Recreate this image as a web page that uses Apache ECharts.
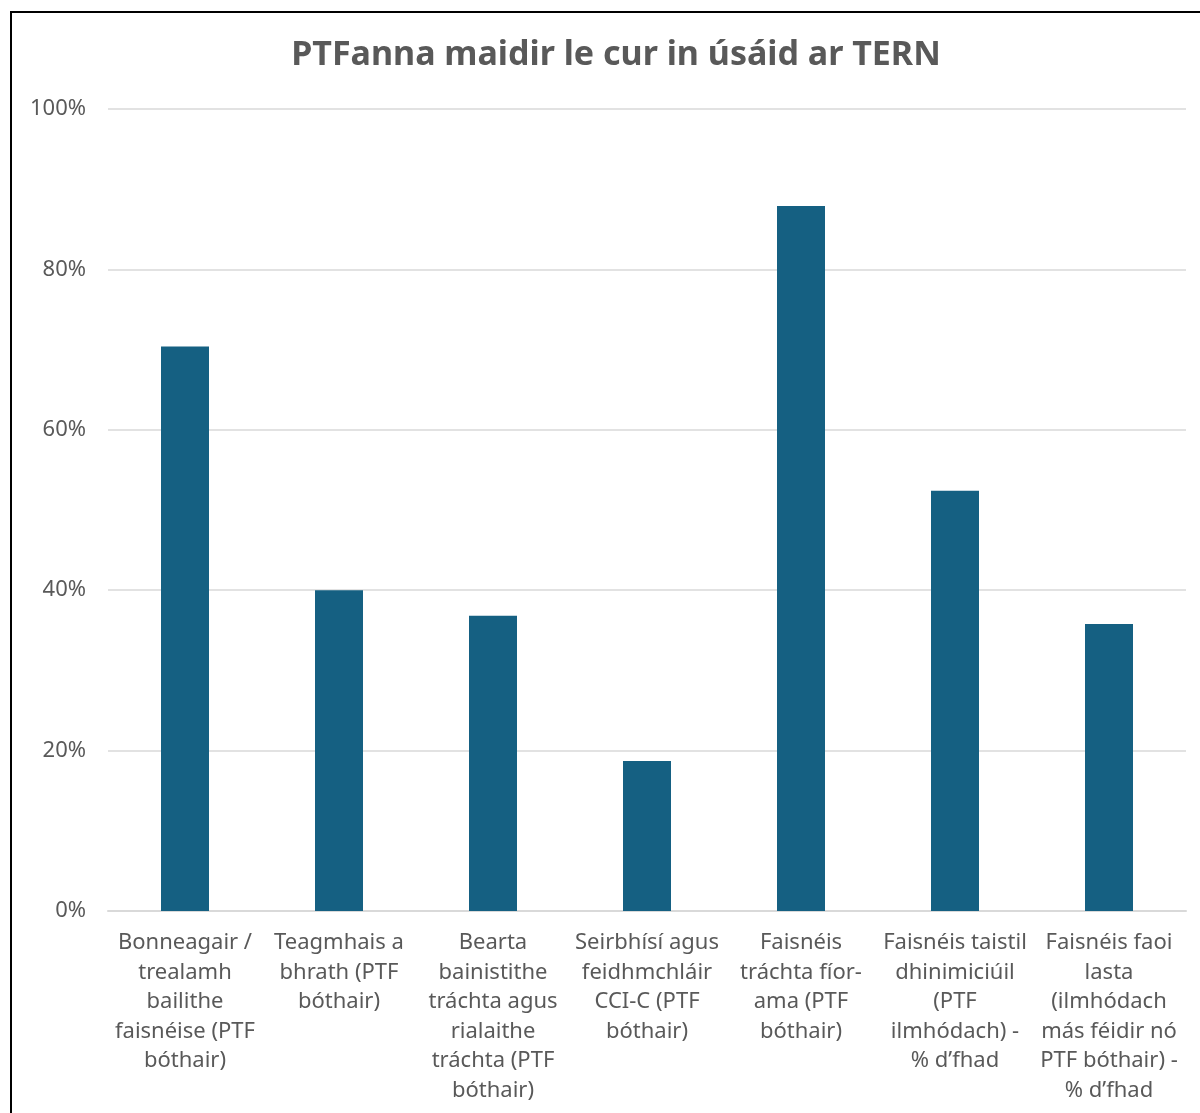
<!DOCTYPE html>
<html>
<head>
<meta charset="utf-8">
<script src="https://cdn.jsdelivr.net/npm/echarts@6/dist/echarts.min.js"></script>
<style>
  html, body { margin: 0; padding: 0; background: #fff; }
  #main { width: 1200px; height: 1113px; }
</style>
</head>
<body>
<div id="main"></div>
<script>
const categories = [
  'Bonneagair /\ntrealamh\nbailithe\nfaisnéise (PTF\nbóthair)',
  'Teagmhais a\nbhrath (PTF\nbóthair)',
  'Bearta\nbainistithe\ntráchta agus\nrialaithe\ntráchta (PTF\nbóthair)',
  'Seirbhísí agus\nfeidhmchláir\nCCI-C (PTF\nbóthair)',
  'Faisnéis\ntráchta fíor-\nama (PTF\nbóthair)',
  'Faisnéis taistil\ndhinimiciúil\n(PTF\nilmhódach) -\n% d’fhad',
  'Faisnéis faoi\nlasta\n(ilmhódach\nmás féidir nó\nPTF bóthair) -\n% d’fhad'
]
const values = [70.4, 40.0, 36.8, 18.7, 87.9, 52.4, 35.8]
const yTicks = [0, 20, 40, 60, 80, 100]

const font = 'Noto Sans'
const chart = echarts.init(document.getElementById('main'))

chart.setOption({
  backgroundColor: '#fff',
  animation: false,
  title: {
    text: 'PTFanna maidir le cur in úsáid ar TERN',
    left: 611, top: 33, textAlign: 'center',
    textStyle: { fontFamily: font, fontSize: 34, fontWeight: 'bold', color: '#595959' }
  },
  graphic: [
    { type: 'line', shape: { x1: 11, y1: 11, x2: 11, y2: 1113 }, style: { stroke: '#000', lineWidth: 2 } },
    { type: 'line', shape: { x1: 10, y1: 12, x2: 1200, y2: 12 }, style: { stroke: '#000', lineWidth: 2 } }
  ],
  grid: { left: 108, right: 14, top: 109, bottom: 202, containLabel: false },
  xAxis: {
    type: 'category',
    data: categories,
    axisTick: { show: false },
    axisLine: { lineStyle: { color: '#d9d9d9', width: 2 } },
    axisLabel: {
      interval: 0, margin: 17, fontFamily: font, fontSize: 22, color: '#595959',
      lineHeight: 29.5, align: 'center'
    }
  },
  yAxis: {
    type: 'value', min: 0, max: 100, interval: 20,
    axisLine: { show: false }, axisTick: { show: false },
    splitLine: { lineStyle: { color: '#d9d9d9', width: 1.5 } },
    axisLabel: {
      margin: 22, fontFamily: font, fontSize: 22, color: '#595959',
      formatter: v => yTicks.includes(v) ? v + '%' : ''
    }
  },
  series: [{
    type: 'bar',
    data: values,
    barWidth: 48,
    itemStyle: { color: '#156082' }
  }]
})
</script>
</body>
</html>
